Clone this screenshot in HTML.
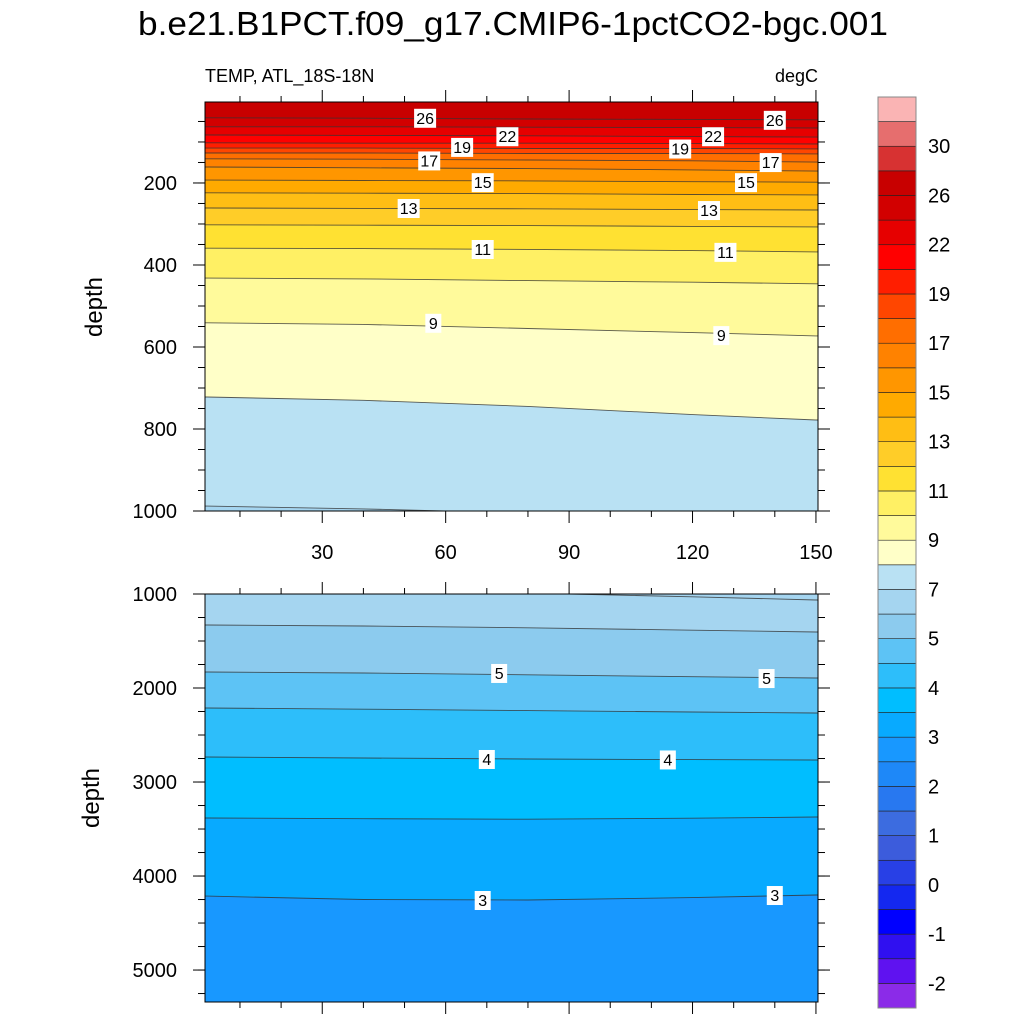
<!DOCTYPE html>
<html><head><meta charset="utf-8"><style>
html,body{margin:0;padding:0;background:#fff;}
svg{display:block;font-family:"Liberation Sans",sans-serif;}
</style></head><body>
<svg id="chart" width="1024" height="1024" viewBox="0 0 1024 1024" xmlns="http://www.w3.org/2000/svg">
<text x="513" y="35" font-size="33" text-anchor="middle" textLength="750" lengthAdjust="spacingAndGlyphs">b.e21.B1PCT.f09_g17.CMIP6-1pctCO2-bgc.001</text>
<text x="205" y="82" font-size="18">TEMP, ATL_18S-18N</text>
<text x="818" y="82" font-size="18" text-anchor="end">degC</text>
<text transform="translate(102,307) rotate(-90)" font-size="24" text-anchor="middle">depth</text>
<text transform="translate(99,798) rotate(-90)" font-size="24" text-anchor="middle">depth</text>
<g id="top"></g>
<g id="bot"></g>
<g id="cbar"></g>
</svg>
<script>
// colorbar data
const cbLevels = [-2,-1.5,-1,-0.5,0,0.5,1,1.5,2,2.5,3,3.5,4,4.5,5,6,7,8,9,10,11,12,13,14,15,16,17,18,19,20,22,24,26,28,30,32];
const cbColors = ["#8B2BE8","#5F12F0","#3010F0","#0000FF","#1428F0","#2840E6","#3C5CDC","#3C6CE0","#2878F0","#1E88F8","#1898FF","#08AAFF","#00BEFF","#2DBEFA","#5DC3F5","#8CCBEE","#A5D5F0","#B9E1F3","#FFFFC8","#FFFA9B","#FFF064","#FFE132","#FFCD28","#FFBE14","#FFAA00","#FF9600","#FF8200","#FF6E00","#FF4600","#FF1E00","#FF0000","#E60000","#D20000","#C80000","#D73232","#E66E6E","#FAB4B4"];
const cbTickLabels = ["30","26","22","19","17","15","13","11","9","7","5","4","3","2","1","0","-1","-2"];
// data x positions (model column index)
const xs = [2,40,80,120,150];
// upper panel isotherm depths (m)
const topLevels = [26,24,22,20,19,18,17,16,15,14,13,12,11,10,9,8,7];
const topDepths = [
[41,42,44,45,46],[63,63,64,65,66],[83,84,85,87,88],[102,103,103,104,105],
[115,115,116,116,117],[127,127,128,128,129],[141,142,144,146,149],[161,163,165,168,171],
[193,194,195,197,198],[224,225,226,228,229],[261,262,263,265,266],[302,303,304,306,307],
[359,360,362,365,368],[432,434,438,442,446],[541,545,555,565,573],[722,730,745,765,778],
[988,995,1005,1015,1030]];
const topLabels = [[26,55,41],[26,140,46],[22,75,86],[22,125,86],[19,64,112],[19,117,116],[17,56,145],[17,139,149],[15,69,198],[15,133,198],[13,51,261],[13,124,266],[11,69,361],[11,128,368],[9,57,541],[9,127,571]];
// lower panel isotherm depths (m)
const botLevels = [7,6,5,4.5,4,3.5,3];
const botDepths = [
[960,975,990,1030,1064],[1330,1340,1360,1385,1404],[1830,1840,1860,1880,1894],
[2213,2225,2240,2255,2266],[2734,2745,2755,2762,2766],[3383,3390,3395,3385,3372],
[4213,4250,4255,4230,4202]];
const botLabels = [[5,73,1840],[5,138,1894],[4,70,2755],[4,114,2760],[3,69,4255],[3,140,4202]];

const NS="http://www.w3.org/2000/svg";
function mk(p,tag,at){const e=document.createElementNS(NS,tag);for(const k in at)e.setAttribute(k,at[k]);p.appendChild(e);return e;}
const X0=205,X1=818;
const xScale=v=>X0+(v-1.5)*(X1-X0)/(150.5-1.5);
function colorFor(v){let i=0;while(i<cbLevels.length&&cbLevels[i]<=v)i++;return cbColors[i];}

function panel(g,y0,y1,d0,d1,levels,depths,labels,yTicks,yMinor,showXLabels,topColorVal){
  const yS=d=>y0+(d-d0)*(y1-y0)/(d1-d0);
  const cid='clip'+y0;
  const cp=mk(g,'clipPath',{id:cid});mk(cp,'rect',{x:X0,y:y0,width:X1-X0,height:y1-y0});
  const inner=mk(g,'g',{'clip-path':'url(#'+cid+')'});
  const bg=mk(inner,'rect',{x:X0,y:y0,width:X1-X0,height:y1-y0,fill:colorFor(topColorVal)});
  
  
  const ext=[0.5,...xs,152];
  levels.forEach((L,i)=>{
    const ds=depths[i];const dd=[ds[0],...ds,ds[ds.length-1]];
    const pts=ext.map((x,j)=>xScale(x).toFixed(1)+','+yS(dd[j]).toFixed(1));
    const poly=mk(inner,'polygon',{points:pts.join(' ')+' '+xScale(152)+','+(y1+50)+' '+xScale(0.5)+','+(y1+50),fill:colorFor(L-0.01)});
    
    
  });
  levels.forEach((L,i)=>{
    const ds=depths[i];const dd=[ds[0],...ds,ds[ds.length-1]];
    const pts=ext.map((x,j)=>xScale(x).toFixed(1)+','+yS(dd[j]).toFixed(1));
    const pl=mk(inner,'polyline',{points:pts.join(' '),fill:'none',stroke:'#333','stroke-width':0.9,'stroke-opacity':0.8});
    
    
  });
  labels.forEach(([v,x,d])=>{
    const cx=xScale(x),cy=yS(d);const w=String(v).length>1?22:16;
    const lg=mk(inner,'g',{});
    
    
    mk(lg,'rect',{x:cx-w/2,y:cy-9,width:w,height:19,fill:'#fff'});
    const t=mk(lg,'text',{x:cx,y:cy+6,'font-size':16,'text-anchor':'middle'});t.textContent=v;
  });
  const fr=mk(g,'rect',{x:X0,y:y0,width:X1-X0,height:y1-y0,fill:'none',stroke:'#000','stroke-width':1});
  
  
  const ax=mk(g,'g',{stroke:'#000','stroke-width':1});
  yTicks.forEach(d=>{const y=yS(d);mk(ax,'line',{x1:X0-12,y1:y,x2:X0,y2:y});mk(ax,'line',{x1:X1,y1:y,x2:X1+12,y2:y});
    const t=mk(g,'text',{x:177,y:y+7,'font-size':20,'text-anchor':'end'});t.textContent=d;
    });
  yMinor.forEach(d=>{const y=yS(d);if(y<y0||y>y1)return;mk(ax,'line',{x1:X0-7,y1:y,x2:X0,y2:y});mk(ax,'line',{x1:X1,y1:y,x2:X1+7,y2:y});});
  for(let v=10;v<=150;v+=10){const x=xScale(v);const L=(v%30===0)?12:6;
    mk(ax,'line',{x1:x,y1:y0-L,x2:x,y2:y0});mk(ax,'line',{x1:x,y1:y1,x2:x,y2:y1+L});
    if(showXLabels&&v%30===0){const t=mk(g,'text',{x:x,y:y1+48,'font-size':20,'text-anchor':'middle'});t.textContent=v;
      }}
}
const tMinor=[];for(let d=50;d<1000;d+=50)tMinor.push(d);
panel(document.getElementById('top'),102,511,2.5,1000,topLevels,topDepths,topLabels,[200,400,600,800,1000],tMinor,true,27);
const bMinor=[];for(let d=1250;d<5400;d+=250)bMinor.push(d);
panel(document.getElementById('bot'),594,1002,1000,5340,botLevels,botDepths,botLabels,[1000,2000,3000,4000,5000],bMinor,false,6.5);

// colorbar
const cb=document.getElementById('cbar');
const CX=878,CW=38,CY0=97,CY1=1008,n=cbColors.length,bh=(CY1-CY0)/n;
cbColors.forEach((c,i)=>{const r=mk(cb,'rect',{x:CX,y:CY1-(i+1)*bh,width:CW,height:bh,fill:c,stroke:'#222','stroke-width':0.6});
  });
mk(cb,'rect',{x:CX,y:CY0,width:CW,height:CY1-CY0,fill:'none',stroke:'#888','stroke-width':1});
cbTickLabels.forEach((s,k)=>{const y=CY0+(2+2*k)*bh;const t=mk(cb,'text',{x:928,y:y+7,'font-size':20});t.textContent=s;
  });
</script>
</body></html>
